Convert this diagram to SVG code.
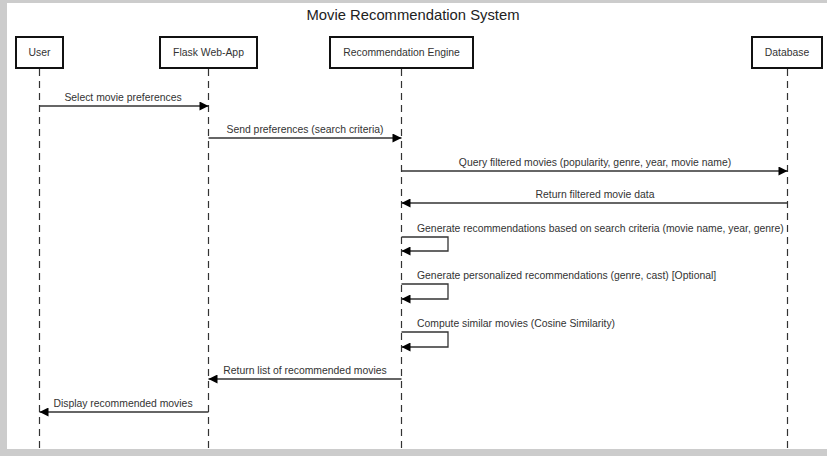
<svg xmlns="http://www.w3.org/2000/svg" width="827" height="456" viewBox="0 0 827 456">
<defs>
<style>
.box{fill:#fff;stroke:#111;stroke-width:2}
.lbl{font-family:"Liberation Sans",Arial,sans-serif;font-size:10.4px;fill:#333;text-anchor:middle}
.msg{font-family:"Liberation Sans",Arial,sans-serif;font-size:10.4px;fill:#333}
.life{stroke:#333;stroke-width:1.2;stroke-dasharray:7 5;fill:none}
.arr{stroke:#333;stroke-width:1.3;fill:none;marker-end:url(#ah)}
</style>
<marker id="ah" viewBox="0 0 10 10" refX="10" refY="5" markerWidth="10" markerHeight="9" markerUnits="userSpaceOnUse" orient="auto">
<path d="M0,0 L10,5 L0,10 Z" fill="#000"/>
</marker>
</defs>
<rect x="0" y="0" width="827" height="456" fill="#fff"/>
<rect x="0" y="0" width="827" height="3" fill="#cccccc"/>
<rect x="0" y="0" width="7" height="456" fill="#cccccc"/>
<rect x="0" y="449" width="827" height="7" fill="#cccccc"/>
<text x="413" y="20" font-family="'Liberation Sans',Arial,sans-serif" font-size="14.8" fill="#222" text-anchor="middle">Movie Recommendation System</text>
<g id="user">
<line class="life" x1="39.5" y1="69" x2="39.5" y2="449"/>
<rect class="box" x="16" y="37" width="47" height="31"/>
<text class="lbl" x="39.5" y="56">User</text>
</g>
<g id="flask">
<line class="life" x1="208.5" y1="69" x2="208.5" y2="449"/>
<rect class="box" x="160" y="37" width="97" height="31"/>
<text class="lbl" x="208.5" y="56">Flask Web-App</text>
</g>
<g id="engine">
<line class="life" x1="401.5" y1="69" x2="401.5" y2="449"/>
<rect class="box" x="330" y="37" width="143" height="31"/>
<text class="lbl" x="401.5" y="56">Recommendation Engine</text>
</g>
<g id="database">
<line class="life" x1="787.5" y1="69" x2="787.5" y2="449"/>
<rect class="box" x="752" y="37" width="70" height="31"/>
<text class="lbl" x="787" y="56">Database</text>
</g>
<g id="connectors">
<path class="arr" d="M39.5,106 H208.5"/>
<text class="lbl" x="123" y="101">Select movie preferences</text>
<path class="arr" d="M208.5,138 H401.5"/>
<text class="lbl" x="305" y="133">Send preferences (search criteria)</text>
<path class="arr" d="M401.5,171 H787.5"/>
<text class="lbl" x="595" y="166">Query filtered movies (popularity, genre, year, movie name)</text>
<path class="arr" d="M787.5,203 H401.5"/>
<text class="lbl" x="595" y="198">Return filtered movie data</text>
<path class="arr" d="M401.5,237 H448 V251 H401.5"/>
<text class="msg" x="417" y="232">Generate recommendations based on search criteria (movie name, year, genre)</text>
<path class="arr" d="M401.5,284 H448 V299 H401.5"/>
<text class="msg" x="417" y="279">Generate personalized recommendations (genre, cast) [Optional]</text>
<path class="arr" d="M401.5,332 H448 V347 H401.5"/>
<text class="msg" x="417" y="327">Compute similar movies (Cosine Similarity)</text>
<path class="arr" d="M401.5,379 H208.5"/>
<text class="lbl" x="305" y="374">Return list of recommended movies</text>
<path class="arr" d="M208.5,412 H39.5"/>
<text class="lbl" x="123" y="407">Display recommended movies</text>
</g>
</svg>
